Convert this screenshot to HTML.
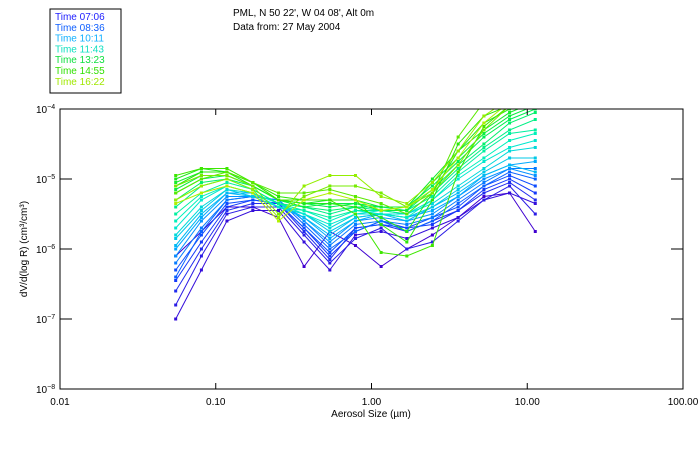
<!DOCTYPE html>
<html><head><meta charset="utf-8"><style>
body{margin:0;background:#fff;}
svg{display:block;font-family:"Liberation Sans",sans-serif;}
</style></head><body>
<svg id="chart" width="700" height="450" viewBox="0 0 700 450">
<defs><clipPath id="pc"><rect x="60" y="109" width="623" height="280"/></clipPath></defs>
<rect x="50" y="9" width="71" height="84" fill="#fff" stroke="#000"/>
<g id="legend" font-size="10"></g>
<text x="233" y="16" font-size="10">PML, N 50 22', W 04 08', Alt 0m</text>
<text x="233" y="30" font-size="10">Data from: 27 May 2004</text>
<g id="series" clip-path="url(#pc)"></g>
<rect x="60" y="109" width="623" height="280" fill="none" stroke="#000"/>
<g id="axes" font-size="10"></g>
<text transform="translate(27,249) rotate(-90)" text-anchor="middle" font-size="10">dV/d(log R) (cm³/cm³)</text>
<text x="371" y="417" text-anchor="middle" font-size="10">Aerosol Size (µm)</text>
</svg>
<script>
const sizes=[0.0553,0.0809,0.118,0.173,0.253,0.369,0.540,0.789,1.153,1.686,2.46,3.60,5.27,7.70,11.26];
const xTicks=[0.01,0.1,1,10,100];
const xTickLabels=["0.01","0.10","1.00","10.00","100.00"];
const yTicks=[-4,-5,-6,-7,-8];
const legendTimes=["07:06","08:36","10:11","11:43","13:23","14:55","16:22"];
const s0=[-6.1,-5.75,-5.4,-5.4,-5.55,-6.25,-5.75,-5.95,-6.25,-6.0,-5.8,-5.55,-5.25,-5.2,-5.75];
const s1=[-7.0,-6.3,-5.6,-5.45,-5.45,-5.9,-6.3,-5.8,-5.75,-5.85,-5.7,-5.55,-5.3,-5.2,-5.35];
const s2=[-6.8,-6.1,-5.5,-5.4,-5.4,-5.8,-6.2,-5.85,-5.7,-6.0,-5.9,-5.6,-5.3,-5.1,-5.5];
const s3=[-6.6,-6.0,-5.45,-5.35,-5.35,-5.75,-6.15,-5.7,-5.65,-5.75,-5.6,-5.45,-5.2,-5.05,-5.3];
const s4=[-6.45,-5.9,-5.4,-5.3,-5.35,-5.7,-6.1,-5.75,-5.6,-5.7,-5.65,-5.45,-5.15,-5.0,-5.2];
const s5=[-6.3,-5.8,-5.35,-5.3,-5.35,-5.7,-6.05,-5.7,-5.65,-5.7,-5.55,-5.4,-5.1,-4.95,-5.1];
const s6=[-6.4,-5.75,-5.3,-5.25,-5.3,-5.65,-6.0,-5.75,-5.6,-5.75,-5.6,-5.35,-5.1,-4.9,-5.0];
const s7=[-6.2,-5.7,-5.3,-5.25,-5.3,-5.6,-5.95,-5.65,-5.6,-5.65,-5.55,-5.3,-5.05,-4.85,-4.85];
const s8=[-6.1,-5.6,-5.25,-5.25,-5.3,-5.6,-5.9,-5.6,-5.55,-5.6,-5.5,-5.25,-5.0,-4.85,-4.95];
const s9=[-6.0,-5.55,-5.2,-5.2,-5.35,-5.55,-5.85,-5.6,-5.5,-5.55,-5.45,-5.25,-4.95,-4.8,-4.75];
const s10=[-5.95,-5.5,-5.2,-5.25,-5.4,-5.55,-5.8,-5.55,-5.5,-5.6,-5.4,-5.2,-4.95,-4.8,-4.9];
const s11=[-5.85,-5.45,-5.15,-5.25,-5.4,-5.5,-5.75,-5.55,-5.5,-5.55,-5.4,-5.15,-4.9,-4.7,-4.7];
const s12=[-5.8,-5.4,-5.15,-5.2,-5.4,-5.5,-5.7,-5.5,-5.5,-5.5,-5.35,-5.1,-4.85,-4.6,-4.55];
const s13=[-5.7,-5.3,-5.1,-5.2,-5.35,-5.5,-5.65,-5.5,-5.45,-5.5,-5.3,-5.0,-4.75,-4.55,-4.45];
const s14=[-5.6,-5.25,-5.1,-5.2,-5.4,-5.45,-5.6,-5.45,-5.5,-5.55,-5.3,-4.95,-4.7,-4.45,-4.35];
const s15=[-5.5,-5.2,-5.05,-5.15,-5.35,-5.45,-5.55,-5.45,-5.45,-5.45,-5.25,-4.9,-4.6,-4.35,-4.3];
const s16=[-5.4,-5.1,-5.0,-5.15,-5.35,-5.4,-5.5,-5.4,-5.45,-5.5,-5.2,-4.85,-4.55,-4.3,-4.15];
const s17=[-5.3,-5.05,-5.0,-5.1,-5.3,-5.4,-5.45,-5.4,-5.4,-5.45,-5.15,-4.8,-4.5,-4.2,-4.05];
const s18=[-5.2,-5.0,-4.95,-5.1,-5.3,-5.35,-5.4,-5.35,-5.4,-5.4,-5.1,-4.75,-4.4,-4.15,-4.0];
const s19=[-5.15,-4.95,-4.95,-5.1,-5.3,-5.4,-5.35,-5.35,-5.45,-5.45,-5.05,-4.7,-4.35,-4.1,-3.95];
const s20=[-5.05,-4.9,-4.9,-5.05,-5.3,-5.35,-5.3,-5.3,-5.4,-5.4,-5.0,-4.6,-4.3,-4.05,-3.9];
const s21=[-5.0,-4.85,-4.9,-5.1,-5.3,-5.35,-5.35,-5.4,-5.55,-5.75,-5.2,-4.6,-4.2,-4.0,-3.85];
const s22=[-5.1,-4.9,-4.9,-5.05,-5.25,-5.3,-5.3,-5.3,-5.65,-5.9,-5.3,-4.5,-4.1,-3.95,-3.8];
const s23=[-4.95,-4.85,-4.85,-5.05,-5.3,-5.3,-5.3,-5.5,-6.05,-6.1,-5.95,-4.9,-4.25,-3.95,-3.85];
const s24=[-5.2,-5.0,-4.9,-5.05,-5.2,-5.2,-5.15,-5.25,-5.35,-5.5,-5.2,-4.4,-3.9,-3.8,-3.75];
const s25=[-5.1,-4.95,-4.95,-5.1,-5.5,-5.25,-5.1,-5.1,-5.2,-5.4,-5.2,-4.8,-4.3,-3.95,-3.8];
const s26=[-5.3,-5.1,-5.0,-5.15,-5.55,-5.1,-4.95,-4.95,-5.25,-5.35,-5.05,-4.6,-4.1,-3.85,-3.75];
const s27=[-5.35,-5.2,-5.1,-5.2,-5.6,-5.3,-5.2,-5.3,-5.45,-5.4,-5.15,-4.7,-4.2,-3.9,-3.8];
const seriesLog=[s0,s1,s2,s3,s4,s5,s6,s7,s8,s9,s10,s11,s12,s13,s14,s15,s16,s17,s18,s19,s20,s21,s22,s23,s24,s25,s26,s27];

const NS="http://www.w3.org/2000/svg";
const X0=60,X1=683,Y0=109,Y1=389;
function xS(v){return X0+(Math.log10(v)+2)/4*(X1-X0);}
function yS(l){return Y0+(-4-l)/4*(Y1-Y0);}
const stops=[[64,0,208],[16,64,255],[0,170,255],[0,240,200],[0,240,80],[48,230,0],[176,240,0]];
function col(t){const p=t*(stops.length-1),i=Math.min(Math.floor(p),stops.length-2),f=p-i;const a=stops[i],b=stops[i+1];return `rgb(${a.map((c,k)=>Math.round(c+(b[k]-c)*f)).join(',')})`;}
const lc=["#2020ff","#1060ff","#10b0ff","#10e0c0","#10e040","#30e000","#a0e800"];
const lg=document.getElementById('legend');
legendTimes.forEach((t,i)=>{const e=document.createElementNS(NS,'text');


e.setAttribute('x',55);e.setAttribute('y',20+i*10.8);e.setAttribute('fill',lc[i]);e.textContent='Time '+t;lg.appendChild(e);});
const sg=document.getElementById('series');
seriesLog.forEach((s,k)=>{const c=col(k/(seriesLog.length-1));
const g=document.createElementNS(NS,'g');


const pl=document.createElementNS(NS,'polyline');
pl.setAttribute('points',s.map((v,i)=>xS(sizes[i]).toFixed(1)+','+yS(v).toFixed(1)).join(' '));
pl.setAttribute('fill','none');pl.setAttribute('stroke',c);pl.setAttribute('stroke-width','1');g.appendChild(pl);
s.forEach((v,i)=>{const r=document.createElementNS(NS,'rect');


r.setAttribute('x',xS(sizes[i])-1.5);r.setAttribute('y',yS(v)-1.5);r.setAttribute('width',3);r.setAttribute('height',3);r.setAttribute('fill',c);g.appendChild(r);});
sg.appendChild(g);});
const ax=document.getElementById('axes');
xTicks.forEach((v,i)=>{const x=xS(v);
if(i>0&&i<xTicks.length-1){[[Y1,Y1-6],[Y0,Y0+6]].forEach(p=>{const l=document.createElementNS(NS,'line');


l.setAttribute('x1',x);l.setAttribute('x2',x);l.setAttribute('y1',p[0]);l.setAttribute('y2',p[1]);l.setAttribute('stroke','#000');ax.appendChild(l);});}
const t=document.createElementNS(NS,'text');


t.setAttribute('x',x);t.setAttribute('y',405);t.setAttribute('text-anchor','middle');t.textContent=xTickLabels[i];ax.appendChild(t);});
yTicks.forEach((v,i)=>{const y=yS(v);
if(i>0&&i<yTicks.length-1){[[X0,X0+12],[X1,X1-12]].forEach(p=>{const l=document.createElementNS(NS,'line');


l.setAttribute('y1',y);l.setAttribute('y2',y);l.setAttribute('x1',p[0]);l.setAttribute('x2',p[1]);l.setAttribute('stroke','#000');ax.appendChild(l);});}
const t=document.createElementNS(NS,'text');


t.setAttribute('x',36);t.setAttribute('y',y+4);t.textContent='10';
const ts=document.createElementNS(NS,'tspan');ts.setAttribute('dy','-4');ts.setAttribute('font-size','7');ts.textContent='−'+Math.abs(v);t.appendChild(ts);ax.appendChild(t);});
</script>
</body></html>
